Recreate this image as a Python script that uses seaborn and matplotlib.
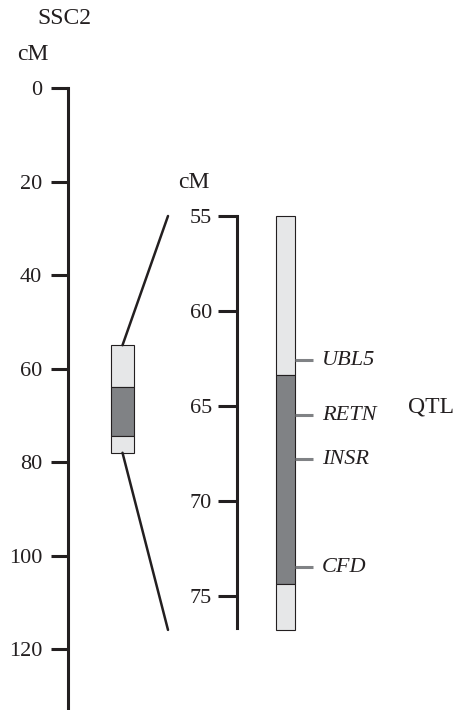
import matplotlib
matplotlib.use("Agg")
import matplotlib.pyplot as plt
from matplotlib.patches import ConnectionPatch
from matplotlib import font_manager
import seaborn as sns

# chromosome scale (cM) and the zoomed QTL window
ssc2_ticks = [0, 20, 40, 60, 80, 100, 120]
zoom_ticks = [55, 60, 65, 70, 75]

# QTL region segments: boundaries in cM (light / dark / light)
left_bounds = [55, 64, 74.5, 78]
right_bounds = [55, 63.4, 74.4, 76.8]
seg_colors = ["#e6e7e8", "#808285", "#e6e7e8"]

# genes inside the QTL
genes = ["UBL5", "RETN", "INSR", "CFD"]
gene_pos = [62.6, 65.5, 67.8, 73.5]

sns.set_style("white")
plt.rcParams["font.family"] = ["Liberation Serif", "DejaVu Serif"]
plt.rcParams["font.size"] = 16
print(font_manager.findfont("Liberation Serif"))

W, H = 459, 710
fig = plt.figure(figsize=(W / 100, H / 100), dpi=100)
ink = "#231f20"

# --- whole chromosome axis ---
ax1 = fig.add_axes([68 / W, 0, 132 / W, (H - 88) / H])
ax1.set_ylim(133, 0)
ax1.set_xlim(0, 1)
ax1.set_yticks(ssc2_ticks)
ax1.set_xticks([])
sns.despine(ax=ax1, top=True, right=True, bottom=True)
ax1.spines["left"].set_linewidth(2.2)
ax1.spines["left"].set_color(ink)
ax1.tick_params(axis="y", left=True, length=12.5, width=2.2, color=ink, pad=6,
                labelsize=16, labelcolor=ink)
ax1.patch.set_alpha(0)

lc, lw_box = (122.5 - 68) / 132, 23 / 132
for i, c in enumerate(seg_colors):
    ax1.bar(lc, left_bounds[i + 1] - left_bounds[i], bottom=left_bounds[i], width=lw_box,
            color=c, edgecolor=ink, linewidth=0.8, clip_on=False)

# --- zoomed axis ---
ax2 = fig.add_axes([237 / W, (H - 628) / H, (W - 237) / W, (628 - 216) / H])
ax2.set_ylim(76.7, 55)
ax2.set_xlim(0, 1)
ax2.set_yticks(zoom_ticks)
ax2.set_xticks([])
sns.despine(ax=ax2, top=True, right=True, bottom=True)
ax2.spines["left"].set_linewidth(2.2)
ax2.spines["left"].set_color(ink)
ax2.tick_params(axis="y", left=True, length=13.5, width=2.2, color=ink, pad=4.5,
                labelsize=16, labelcolor=ink)
ax2.patch.set_alpha(0)

rc, rw = (285.5 - 237) / 222, 19 / 222
for i, c in enumerate(seg_colors):
    ax2.bar(rc, right_bounds[i + 1] - right_bounds[i], bottom=right_bounds[i], width=rw,
            color=c, edgecolor=ink, linewidth=0.8, clip_on=False)

tick_x0 = rc + rw / 2
ax2.hlines(gene_pos, tick_x0, tick_x0 + 18 / 222, color="#808285", linewidth=2.2)
for g, p in zip(genes, gene_pos):
    ax2.text(tick_x0 + 27 / 222, p, g, style="italic", va="center", ha="left",
             fontsize=16, color=ink)

# connector lines from the small box to the zoom window
xconn = (168 - 237) / 222
for ya, yb in [(left_bounds[0], right_bounds[0]), (left_bounds[-1], right_bounds[-1])]:
    con = ConnectionPatch(xyA=(lc, ya), coordsA=ax1.transData,
                          xyB=(xconn, yb), coordsB=ax2.get_yaxis_transform(),
                          color=ink, linewidth=1.8)
    fig.add_artist(con)

fig.text(64 / W, 1 - 19 / H, "SSC2", ha="center", va="center", fontsize=17, color=ink)
fig.text(33 / W, 1 - 55 / H, "cM", ha="center", va="center", fontsize=17, color=ink)
fig.text(194 / W, 1 - 183 / H, "cM", ha="center", va="center", fontsize=17, color=ink)
fig.text(431 / W, 1 - 407 / H, "QTL", ha="center", va="center", fontsize=17, color=ink)

fig.savefig("out.png", dpi=100)
